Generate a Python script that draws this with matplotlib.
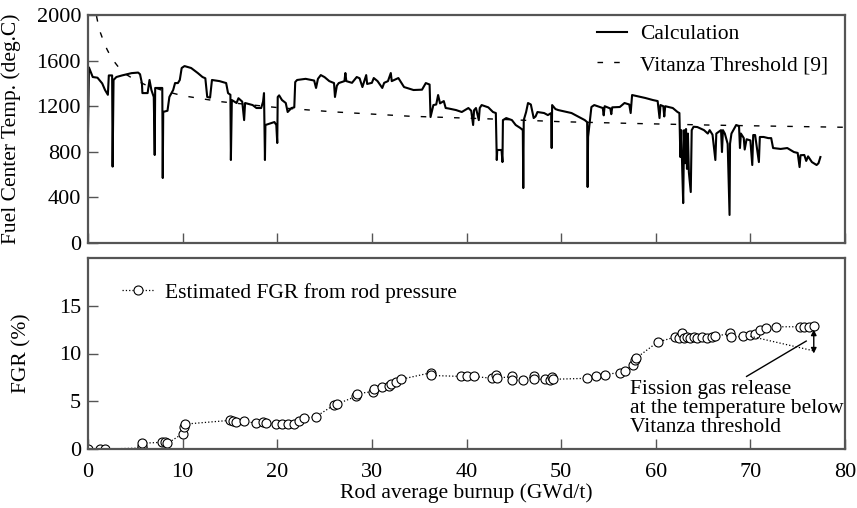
import matplotlib
matplotlib.use("Agg")
import matplotlib.pyplot as plt

plt.rcParams['font.family'] = ['Liberation Serif', 'DejaVu Serif']
plt.rcParams['font.size'] = 15

# calculated fuel centre temperature history (burnup GWd/t, deg.C)
calc_bu = [
    0.0, 0.1, 0.5, 1.0, 1.5, 1.8, 2.1, 2.2, 2.55, 2.6,
    2.7, 3.0, 3.6, 4.6, 5.3, 5.5, 5.7, 5.75, 6.3, 6.5,
    6.7, 6.95, 7.05, 7.1, 7.6, 7.85, 7.9, 7.95, 8.4, 8.6,
    9.0, 9.2, 9.5, 9.7, 9.9, 10.2, 10.9, 11.6, 12.1, 12.4,
    12.6, 12.9, 13.1, 13.9, 14.6, 14.8, 15.05, 15.1, 15.2, 15.7,
    15.9, 16.3, 16.5, 16.6, 17.4, 17.8, 18.3, 18.5, 18.6, 18.7,
    18.75, 19.7, 19.9, 20.0, 20.05, 20.2, 20.5, 20.9, 21.1, 21.5,
    21.8, 21.9, 22.1, 23.0, 23.9, 24.1, 24.3, 24.6, 25.0, 25.5,
    26.0, 26.1, 26.3, 26.5, 27.1, 27.2, 27.3, 27.9, 28.4, 28.7,
    29.0, 29.4, 29.5, 30.0, 30.2, 30.6, 31.1, 31.3, 31.7, 32.0,
    32.1, 32.8, 33.4, 34.4, 35.3, 35.7, 36.1, 36.2, 36.5, 36.8,
    37.0, 37.2, 37.6, 37.8, 38.1, 38.9, 39.5, 40.2, 40.5, 40.7,
    40.8, 41.0, 41.3, 41.4, 41.6, 42.3, 42.8, 43.1, 43.2, 43.25,
    43.7, 43.8, 43.85, 44.2, 44.8, 45.2, 45.7, 45.95, 46.0, 46.05,
    46.3, 46.5, 46.8, 47.1, 47.3, 47.5, 48.2, 48.6, 48.95, 49.0,
    49.05, 49.4, 49.7, 51.1, 52.1, 52.5, 52.75, 52.8, 52.85, 53.2,
    53.5, 54.4, 54.5, 54.6, 55.2, 55.3, 55.4, 56.2, 56.7, 57.2,
    57.35, 57.5, 58.2, 58.9, 59.7, 60.2, 60.4, 60.5, 60.8, 60.9,
    61.0, 61.8, 62.3, 62.5, 62.6, 62.7, 62.8, 62.9, 63.0, 63.1,
    63.2, 63.3, 63.4, 63.5, 63.7, 63.8, 64.0, 64.4, 65.1, 65.5,
    65.7, 66.0, 66.3, 66.4, 66.9, 67.0, 67.1, 67.3, 67.6, 67.8,
    67.85, 68.0, 68.5, 68.8, 68.9, 69.0, 69.3, 69.4, 69.6, 70.0,
    70.2, 70.3, 70.5, 70.9, 71.0, 71.4, 71.9, 72.2, 72.4, 73.2,
    73.9, 74.6, 75.0, 75.2, 75.3, 75.7, 75.9, 76.1, 76.5, 77.0,
    77.2, 77.4,
]
calc_temp = [
    970, 1540, 1456, 1450, 1400, 1342, 1300, 1470, 1470, 670,
    1430, 1456, 1470, 1490, 1495, 1480, 1400, 1315, 1315, 1430,
    1342, 1281, 772, 1360, 1360, 1360, 570, 1150, 1160, 1281,
    1342, 1403, 1403, 1430, 1535, 1552, 1535, 1491, 1456, 1445,
    1281, 1275, 1430, 1420, 1403, 1315, 1300, 728, 1254, 1228,
    1270, 1240, 1078, 1228, 1210, 1184, 1184, 1240, 1315, 728,
    1035, 1061, 1035, 877, 1281, 1295, 1254, 1228, 1149, 1184,
    1190, 1412, 1430, 1440, 1425, 1360, 1440, 1473, 1455, 1420,
    1403, 1281, 1380, 1403, 1420, 1491, 1420, 1405, 1456, 1445,
    1368, 1473, 1395, 1405, 1447, 1420, 1360, 1405, 1420, 1491,
    1420, 1447, 1368, 1342, 1345, 1403, 1390, 1105, 1210, 1215,
    1298, 1225, 1245, 1184, 1180, 1166, 1149, 1184, 1160, 1035,
    1165, 1184, 1078, 1184, 1210, 1190, 1149, 1140, 728, 816,
    816, 710, 1078, 1096, 1078, 1035, 1008, 990, 482, 1078,
    1149, 1228, 1215, 1096, 1110, 1149, 1140, 1122, 1140, 833,
    1210, 1175, 1166, 1140, 1096, 1078, 1060, 491, 930, 1193,
    1210, 1184, 1120, 1200, 1180, 1130, 1190, 1193, 1228, 1215,
    1140, 1298, 1285, 1272, 1254, 1245, 1096, 1210, 1200, 1110,
    1200, 1184, 1149, 1140, 754, 990, 640, 350, 990, 700,
    1000, 650, 960, 620, 447, 990, 1020, 1017, 990, 960,
    990, 950, 728, 960, 990, 798, 990, 960, 870, 246,
    870, 960, 1035, 1025, 833, 960, 921, 820, 910, 900,
    684, 947, 947, 710, 930, 930, 920, 920, 833, 825,
    833, 798, 790, 666, 770, 772, 720, 760, 710, 684,
    700, 754,
]

# Vitanza threshold
thr_bu = [0.9, 1.2, 1.6, 2.0, 2.5, 3.2, 4.0, 5.0, 6.0, 8.0, 10.0,
          14.0, 20.0, 26.0, 34.0, 42.0, 50.0, 58.0, 66.0, 74.0, 80.0]
thr_temp = [1990, 1870, 1780, 1700, 1620, 1545, 1480, 1430, 1390, 1335, 1292,
            1240, 1188, 1150, 1112, 1090, 1064, 1048, 1034, 1023, 1015]

# FGR estimated from rod pressure
fgr_bu = [
    0, 1.3, 1.8, 5.7, 5.7, 5.7, 7.8, 8.1, 8.4, 10.0,
    10.1, 10.2, 15.0, 15.3, 15.6, 16.5, 17.8, 18.5, 18.8, 19.9,
    20.5, 21.1, 21.8, 22.3, 22.8, 24.1, 26.0, 26.3, 28.3, 28.4,
    30.1, 30.2, 31.1, 31.8, 32.0, 32.6, 33.1, 36.3, 36.3, 39.4,
    40.1, 40.8, 42.7, 43.1, 43.2, 44.8, 44.8, 46.0, 47.1, 47.1,
    48.3, 48.8, 49.0, 49.1, 52.7, 53.7, 54.6, 56.2, 56.7, 57.6,
    57.8, 57.9, 60.2, 62.0, 62.5, 62.8, 63.0, 63.3, 63.6, 64.0,
    64.4, 64.9, 65.4, 65.9, 66.3, 67.8, 67.9, 69.2, 70.0, 70.5,
    71.0, 71.6, 72.7, 75.2, 75.7, 76.2, 76.7,
]
fgr_val = [
    0, 0, 0, 0.1, 0.3, 0.6, 0.7, 0.7, 0.6, 1.6,
    2.3, 2.6, 3.0, 2.9, 2.8, 2.9, 2.7, 2.8, 2.7, 2.6,
    2.6, 2.6, 2.6, 2.9, 3.2, 3.4, 4.6, 4.7, 5.5, 5.8,
    6.0, 6.3, 6.5, 6.6, 6.8, 7.0, 7.3, 8.0, 7.7, 7.6,
    7.6, 7.6, 7.4, 7.8, 7.4, 7.6, 7.2, 7.2, 7.6, 7.3,
    7.3, 7.2, 7.5, 7.3, 7.4, 7.6, 7.8, 8.0, 8.2, 8.8,
    9.3, 9.5, 11.2, 11.7, 11.6, 12.1, 11.6, 11.7, 11.6, 11.7,
    11.6, 11.7, 11.6, 11.7, 11.8, 12.1, 11.7, 11.8, 11.9, 12.0,
    12.5, 12.7, 12.8, 12.8, 12.8, 12.8, 12.9,
]

x_ticks = [0, 10, 20, 30, 40, 50, 60, 70, 80]
temp_ticks = [0, 400, 800, 1200, 1600, 2000]
fgr_ticks = [0, 5, 10, 15]

spine_col = '#555555'

fig = plt.figure(figsize=(8.57, 5.08), dpi=100)
ax1 = fig.add_axes([88 / 857, 265 / 508, 757 / 857, 228 / 508])
ax2 = fig.add_axes([88 / 857, 59 / 508, 757 / 857, 191 / 508])

for ax in (ax1, ax2):
    for s in ax.spines.values():
        s.set_color(spine_col)
        s.set_linewidth(1.6)
    ax.tick_params(direction='in', length=7, width=1, color=spine_col,
                   labelsize=16, top=False, right=False)
    ax.set_xlim(0, 80)
    ax.set_xticks(x_ticks)

# top panel
ax1.plot(calc_bu, calc_temp, color='black', lw=1.5, label='Calculation')
ax1.plot(thr_bu, thr_temp, color='black', lw=1.0, ls=(0, (4, 8)),
         label='Vitanza Threshold [9]')
ax1.set_ylim(0, 2000)
ax1.set_yticks(temp_ticks)
ax1.tick_params(axis='x', labelbottom=False)
ax1.tick_params(axis='y', pad=5)
ax1.set_ylabel('Fuel Center Temp. (deg.C)', fontsize=15.5)
ax1.yaxis.set_label_coords(-0.088, 0.5)
ax1.legend(loc='upper right', bbox_to_anchor=(0.978, 0.96), frameon=False,
           fontsize=15.5, handlelength=1.4, handletextpad=0.6,
           labelspacing=0.5, borderpad=0, borderaxespad=0)

# bottom panel
ax2.plot(fgr_bu, fgr_val, color='black', lw=0.9, ls=':', marker='o',
         markersize=6.5, markerfacecolor='white', markeredgecolor='black',
         markeredgewidth=0.8, label='Estimated FGR from rod pressure')
ax2.set_ylim(0, 20)
ax2.set_yticks(fgr_ticks)
ax2.tick_params(axis='x', pad=10)
ax2.tick_params(axis='y', pad=5)
ax2.set_ylabel('FGR (%)', fontsize=15.5)
ax2.yaxis.set_label_coords(-0.074, 0.5)
ax2.set_xlabel('Rod average burnup (GWd/t)', fontsize=15.5, labelpad=1)
ax2.legend(loc='upper left', bbox_to_anchor=(0.045, 0.87), frameon=False,
           fontsize=15.5, handlelength=1.5, handletextpad=0.5, numpoints=1,
           borderpad=0, borderaxespad=0)

# annotation for release below the threshold
ax2.plot([70.0, 76.6], [11.8, 10.3], color='black', lw=0.9, ls=':')
ax2.annotate('', xy=(76.7, 10.0), xytext=(76.7, 12.5),
             arrowprops=dict(arrowstyle='<|-|>', color='black', lw=1.0,
                             mutation_scale=8, shrinkA=0, shrinkB=0))
ax2.plot([69.6, 75.9], [7.6, 11.3], color='black', lw=1.0)
ax2.text(57.3, 7.2, 'Fission gas release\nat the temperature below\nVitanza threshold',
         fontsize=15.5, ha='left', va='top', linespacing=1.0)

fig.savefig('out.png', dpi=100)
